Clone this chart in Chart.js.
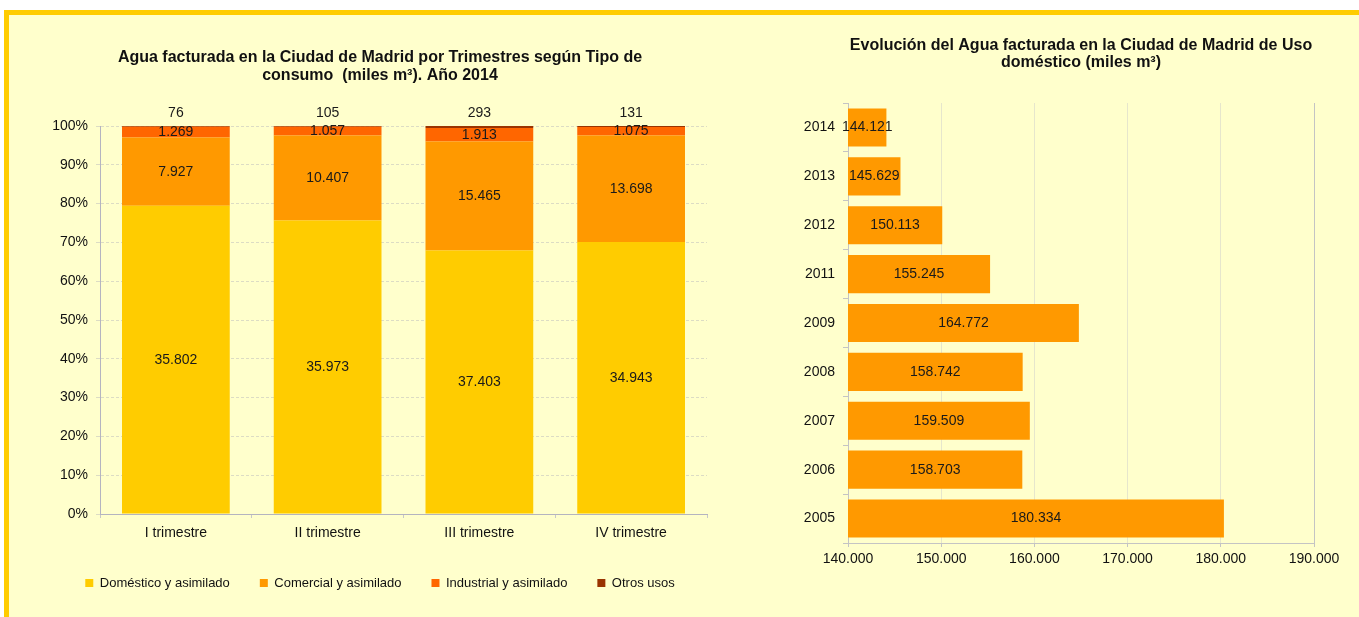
<!DOCTYPE html>
<html>
<head>
<meta charset="utf-8">
<script src="https://cdn.jsdelivr.net/npm/chart.js@4/dist/chart.umd.min.js"></script>
<style>
  html, body { margin: 0; padding: 0; background: #fff; }
  body { width: 1359px; height: 617px; position: relative; overflow: hidden; }
  #fondo {
    position: absolute; left: 4px; top: 10px; right: -10px; bottom: -10px;
    background: #FFFFCC; border-top: 5px solid #FFCC00; border-left: 5px solid #FFCC00;
  }
  canvas { position: absolute; top: 0; }
  #trimestres { left: 0; }
  #evolucion { left: 720px; }
</style>
</head>
<body>
<div id="fondo"></div>
<canvas id="trimestres" width="720" height="617"></canvas>
<canvas id="evolucion" width="639" height="617"></canvas>
<script>
  // ---- datos: agua facturada por trimestre (miles m3), 2014
  const trimestres = ['I trimestre', 'II trimestre', 'III trimestre', 'IV trimestre'];
  const domestico = [35802, 35973, 37403, 34943];
  const comercial = [7927, 10407, 15465, 13698];
  const industrial = [1269, 1057, 1913, 1075];
  const otros = [76, 105, 293, 131];

  // ---- datos: evolucion uso domestico (miles m3)
  const anios = ['2014', '2013', '2012', '2011', '2009', '2008', '2007', '2006', '2005'];
  const usoDomestico = [144121, 145629, 150113, 155245, 164772, 158742, 159509, 158703, 180334];
  const ticksX = [140000, 150000, 160000, 170000, 180000, 190000];

  const FUENTE = '"Liberation Sans", Arial, sans-serif';
  Chart.defaults.font.family = FUENTE;
  Chart.defaults.color = '#111';

  // separador de miles con punto (es-ES no agrupa 4 cifras)
  const fmt = v => String(v).replace(/\B(?=(\d{3})+(?!\d))/g, '.');

  const totales = trimestres.map((t, i) => domestico[i] + comercial[i] + industrial[i] + otros[i]);
  const pct = arr => arr.map((v, i) => v / totales[i] * 100);

  /* etiquetas de valores sobre las barras */
  const etiquetas = {
    id: 'etiquetas',
    afterDatasetsDraw(chart) {
      const ctx = chart.ctx;
      const area = chart.chartArea;
      const horizontal = chart.config.options.indexAxis === 'y';
      ctx.save();
      ctx.font = '14px ' + FUENTE;
      ctx.fillStyle = '#1a1a1a';
      ctx.textAlign = 'center';
      ctx.textBaseline = 'middle';
      chart.data.datasets.forEach((ds, i) => {
        const meta = chart.getDatasetMeta(i);
        meta.data.forEach((bar, j) => {
          let x, y;
          if (horizontal) {
            // la base (0) queda fuera del eje, se recorta al area
            x = (bar.x + Math.max(bar.base, area.left)) / 2;
            y = bar.y;
          } else {
            x = bar.x;
            y = ds.arriba ? bar.y - 13 : (bar.y + Math.min(bar.base, area.bottom)) / 2;
          }
          ctx.fillText(fmt(ds.valores[j]), x, y);
        });
      });
      ctx.restore();
    }
  };

  /* =========================
     1. TRIMESTRES (100% apilado)
     ========================= */
  const serie = (label, vals, color, arriba) => ({
    label: label,
    data: pct(vals),
    valores: vals,
    arriba: !!arriba,
    backgroundColor: color,
    barPercentage: 0.71,
    categoryPercentage: 1
  });

  new Chart(document.getElementById('trimestres'), {
    type: 'bar',
    data: {
      labels: trimestres,
      datasets: [
        serie('Doméstico y asimilado', domestico, '#FFCC00'),
        serie('Comercial y asimilado', comercial, '#FF9900'),
        serie('Industrial y asimilado', industrial, '#FF6600'),
        serie('Otros usos', otros, '#993300', true)
      ]
    },
    plugins: [etiquetas],
    options: {
      responsive: false,
      animation: false,
      layout: { padding: { left: 53, right: 13, top: 0, bottom: 17.5 } },
      plugins: {
        title: {
          display: true,
          text: ['Agua facturada en la Ciudad de Madrid por Trimestres según Tipo de',
                 'consumo  (miles m³). Año 2014'],
          color: '#111',
          font: { size: 16, weight: 'bold', lineHeight: 18 / 16 },
          padding: { top: 49, bottom: 41 }
        },
        legend: {
          position: 'bottom',
          labels: { boxWidth: 8, boxHeight: 8, padding: 30, font: { size: 13 }, color: '#111' }
        },
        tooltip: { enabled: false }
      },
      scales: {
        x: {
          stacked: true,
          afterFit: s => { s.height = 32.5; },
          grid: { drawOnChartArea: false, tickLength: 4, color: '#c8c8c8' },
          border: { color: '#b4b4c0' },
          ticks: { font: { size: 14 }, padding: 7, color: '#111' }
        },
        y: {
          stacked: true,
          min: 0,
          max: 100,
          afterFit: s => { s.width = 47; },
          grid: { color: '#dcdcc4', tickLength: 4 },
          border: { color: '#b4b4c0', dash: [3, 2] },
          ticks: { stepSize: 10, padding: 8, font: { size: 14 }, color: '#111', callback: v => v + '%' }
        }
      }
    }
  });

  /* =========================
     2. EVOLUCION USO DOMESTICO
     ========================= */
  new Chart(document.getElementById('evolucion'), {
    type: 'bar',
    data: {
      labels: anios,
      datasets: [{
        label: 'Uso doméstico',
        data: usoDomestico,
        valores: usoDomestico,
        backgroundColor: '#FF9900',
        barPercentage: 0.78,
        categoryPercentage: 1
      }]
    },
    plugins: [etiquetas],
    options: {
      indexAxis: 'y',
      responsive: false,
      animation: false,
      layout: { padding: { left: 84, right: 45, top: 0, bottom: 0 } },
      plugins: {
        title: {
          display: true,
          fullSize: false,
          text: ['Evolución del Agua facturada en la Ciudad de Madrid de Uso', 'doméstico (miles m³)'],
          color: '#111',
          font: { size: 16, weight: 'bold', lineHeight: 17 / 16 },
          padding: { top: 37.5, bottom: 31.5 }
        },
        legend: { display: false },
        tooltip: { enabled: false }
      },
      scales: {
        x: {
          min: ticksX[0],
          max: ticksX[ticksX.length - 1],
          afterFit: s => { s.height = 74; },
          afterBuildTicks: s => { s.ticks = ticksX.map(v => ({ value: v })); },
          grid: {
            color: c => c.index === ticksX.length - 1 ? '#c4c4c4' : '#e6e6cc',
            tickColor: '#c4c4c4',
            tickLength: 4
          },
          border: { color: '#c4c4c4' },
          ticks: { padding: 4, font: { size: 14 }, color: '#111', maxRotation: 0, callback: v => fmt(v) }
        },
        y: {
          afterFit: s => { s.width = 44; },
          grid: { drawOnChartArea: false, tickLength: 5, color: '#c4c4c4' },
          border: { color: '#c4c4c4' },
          ticks: { padding: 8, font: { size: 14 }, color: '#111' }
        }
      }
    }
  });
</script>
</body>
</html>
